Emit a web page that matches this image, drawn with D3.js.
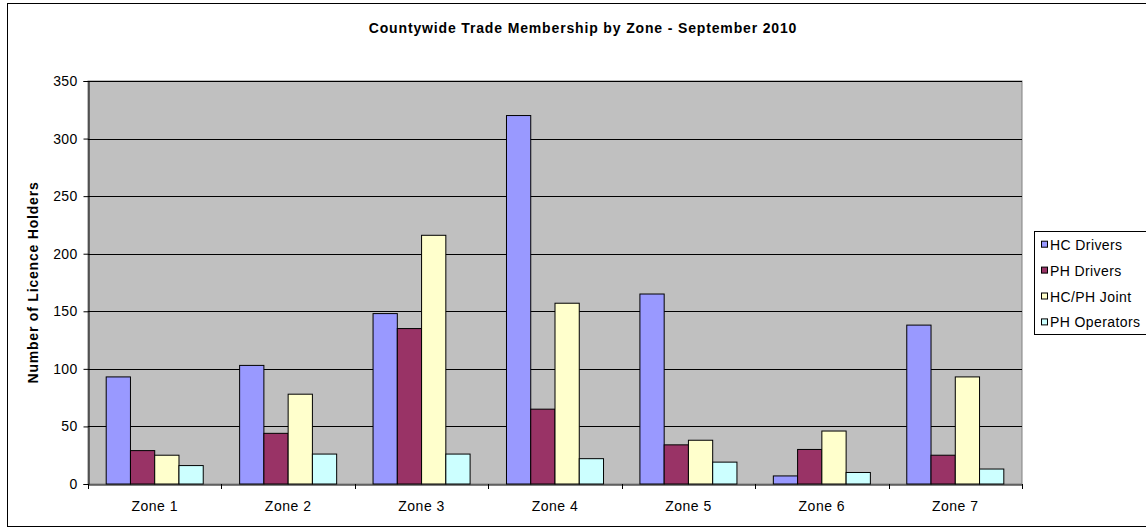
<!DOCTYPE html>
<html><head><meta charset="utf-8">
<script src="https://cdn.jsdelivr.net/npm/d3@7"></script>
<style>body{margin:0;background:#fff;}svg{display:block;font-family:"Liberation Sans",Arial,sans-serif;}</style>
</head><body>
<svg id="c" width="1146" height="530"></svg>
<script>
const zones = ["Zone 1","Zone 2","Zone 3","Zone 4","Zone 5","Zone 6","Zone 7"];
const seriesNames = ["HC Drivers","PH Drivers","HC/PH Joint","PH Operators"];
const hcDrivers   = [93, 103, 148, 320, 165, 7, 138];
const phDrivers   = [29, 44, 135, 65, 34, 30, 25];
const hcphJoint   = [25, 78, 216, 157, 38, 46, 93];
const phOperators = [16, 26, 26, 22, 19, 10, 13];
const yTicks = [0,50,100,150,200,250,300,350];
const colors = ["#9999FF","#993366","#FFFFCC","#CCFFFF"];
const title = "Countywide Trade Membership by Zone - September 2010";
const yTitle = "Number of Licence Holders";

const seriesVals = [hcDrivers, phDrivers, hcphJoint, phOperators];
const svg = d3.select("#c");
const L = 88, R = 1022, T = 81, B = 484;

// outer chart border
svg.append("rect").attr("x",7.5).attr("y",3.5).attr("width",1150).attr("height",523)
  .attr("fill","#fff").attr("stroke","#000").attr("stroke-width",1);

const x = d3.scaleBand().domain(zones).range([L,R]).padding(0);
const xs = d3.scaleBand().domain(seriesNames).range([0,x.bandwidth()]).paddingInner(0).paddingOuter(0.75);
const y = d3.scaleLinear().domain([0,350]).range([B,T]);

// plot area
svg.append("rect").attr("x",L).attr("y",T).attr("width",R-L).attr("height",B-T)
  .attr("fill","#C0C0C0").attr("stroke","#808080").attr("stroke-width",1);

// gridlines
svg.append("g").selectAll("line").data(yTicks.filter(d=>d>0)).join("line")
  .attr("x1",L).attr("x2",R).attr("y1",d=>Math.round(y(d))+0.5).attr("y2",d=>Math.round(y(d))+0.5)
  .attr("stroke","#000").attr("stroke-width",1);

// bars
const g = svg.append("g");
zones.forEach((z,i)=>{
  seriesNames.forEach((s,j)=>{
    const v = seriesVals[j][i];
    g.append("rect")
      .attr("x", x(z)+xs(s))
      .attr("y", y(v))
      .attr("width", xs.bandwidth())
      .attr("height", y(0)-y(v))
      .attr("fill", colors[j]).attr("stroke","#000").attr("stroke-width",1);
  });
});

const FONT = "Liberation Sans, Arial, sans-serif";
// y axis
const yAxis = d3.axisLeft(y).tickValues(yTicks).tickSize(5).tickPadding(6).tickFormat(d3.format("d"));
const ya = svg.append("g").attr("transform",`translate(${L+0.5},0)`).call(yAxis);
ya.select(".domain").attr("stroke","#000");
ya.selectAll(".tick line").attr("stroke","#000");
ya.selectAll("text").attr("font-size",14).attr("letter-spacing",0.3).attr("fill","#000").attr("font-family",FONT);

// x axis
const xa = svg.append("g").attr("transform",`translate(0,${B+0.5})`)
  .call(d3.axisBottom(x).tickSize(0).tickPadding(16.5));
xa.select(".domain").attr("stroke","#000");
xa.selectAll("text").attr("font-size",14).attr("letter-spacing",0.5).attr("fill","#000").attr("font-family",FONT);
// x boundary ticks
svg.append("g").selectAll("line").data(d3.range(zones.length+1)).join("line")
  .attr("x1",d=>Math.round(L + d*x.step())+0.5).attr("x2",d=>Math.round(L + d*x.step())+0.5)
  .attr("y1",B).attr("y2",B+5).attr("stroke","#000");

// title
svg.append("text").attr("x",583).attr("y",33).attr("text-anchor","middle")
  .attr("font-size",14).attr("letter-spacing",0.85).attr("font-weight","bold").text(title);

// y title
svg.append("text").attr("transform",`translate(38,${(T+B)/2}) rotate(-90)`)
  .attr("text-anchor","middle").attr("font-size",14).attr("letter-spacing",0.8).attr("font-weight","bold").text(yTitle);

// legend
const lg = svg.append("g");
lg.append("rect").attr("x",1034.5).attr("y",231.5).attr("width",130).attr("height",103)
  .attr("fill","#fff").attr("stroke","#000");
seriesNames.forEach((s,j)=>{
  const cy = 244.7 + j*25.9;
  lg.append("rect").attr("x",1041.5).attr("y",cy-3.5).attr("width",6).attr("height",6)
    .attr("fill",colors[j]).attr("stroke","#000");
  lg.append("text").attr("x",1050).attr("y",cy+5).attr("font-size",14).attr("letter-spacing",0.4).text(s);
});
</script>
</body></html>
